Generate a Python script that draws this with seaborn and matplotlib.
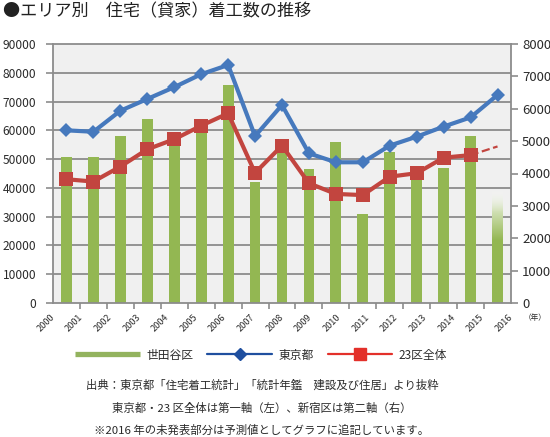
import numpy as np
import seaborn as sns
import matplotlib.pyplot as plt
from matplotlib.lines import Line2D
from matplotlib.colors import to_rgb

# data
years = [str(y) for y in range(2000, 2017)]
setagaya = [4500, 4500, 5150, 5670, 4850, 5450, 6730, 3740, 4650,
            4130, 4960, 2740, 4670, 4150, 4160, 5150, 3500]
tokyo = [60000, 59500, 66800, 70900, 75000, 79500, 82700, 58000, 68800,
         52000, 48900, 48900, 54700, 57800, 61300, 64500, 72300]
ku23 = [43000, 42200, 47400, 53400, 56900, 61600, 65900, 45200, 54700,
        41600, 37900, 37500, 43900, 45100, 50500, 51400]
ku23_forecast_years = ['2015', '2016']
ku23_forecast = [51400, 54400]

left_ticks = list(range(0, 90001, 10000))
right_ticks = list(range(0, 8001, 1000))

green = '#93b752'
blue = '#4679bd'
red = '#c2453f'
grid_c = '#8c8c8c'
txt = '#2b2b2b'

sns.set_theme(style='white')
plt.rcParams['font.family'] = ['Noto Sans CJK JP', 'DejaVu Sans']

fig = plt.figure(figsize=(5.5, 4.37), dpi=100)
ax_bar = fig.add_axes([53 / 550, 1 - 303 / 437, 458 / 550, 259 / 437])
ax_line = ax_bar.twinx()

# bars on the second axis (right)
sns.barplot(x=years, y=setagaya, color=green, saturation=1, width=0.4,
            ax=ax_bar, zorder=2, linewidth=0)

# forecast bar for 2016 fades out at the top
p = ax_bar.patches[-1]
x0, w, h = p.get_x(), p.get_width(), p.get_height()
p.set_visible(False)
n = 200
frac = np.linspace(0, 1, n)
mix = np.clip((frac - 0.55) / 0.45, 0, 1)
g = np.array(to_rgb(green))
grad = np.zeros((n, 1, 4))
grad[:, 0, :3] = g[None, :] * (1 - mix[:, None]) + mix[:, None]
grad[:, 0, 3] = np.clip((1 - frac) / 0.2, 0, 1)
ax_bar.imshow(grad, extent=[x0, x0 + w, 0, h], origin='lower',
              aspect='auto', zorder=2)

# lines on the first axis (left)
sns.pointplot(x=years, y=tokyo, order=years, color=blue, markers='D',
              markersize=7, markeredgewidth=0, linewidth=3, errorbar=None,
              ax=ax_line)
sns.pointplot(x=years[:len(ku23)], y=ku23, order=years, color=red, markers='s',
              markersize=9.5, markeredgewidth=0, linewidth=3, errorbar=None,
              ax=ax_line)
sns.pointplot(x=ku23_forecast_years, y=ku23_forecast, order=years, color=red,
              markers='', linestyles='--', linewidth=1.6, errorbar=None,
              ax=ax_line)

# axes layout: left = lines, right = bars
ax_line.set_ylim(0, 90000)
ax_bar.set_ylim(0, 8000)
ax_bar.set_xlim(-0.5, len(years) - 0.5)
ax_bar.set_facecolor('#f0f0f0')
ax_line.patch.set_visible(False)

ax_line.yaxis.tick_left()
ax_bar.yaxis.tick_right()
ax_line.set_yticks(left_ticks)
ax_line.set_yticklabels([str(v) for v in left_ticks])
ax_bar.set_yticks(right_ticks)
ax_bar.set_yticklabels([str(v) for v in right_ticks])
ax_line.tick_params(axis='y', length=5, width=1.2, color=grid_c,
                    labelsize=8.6, labelcolor=txt, pad=7, left=True, right=False)
ax_bar.tick_params(axis='y', length=5, width=1.2, color=grid_c,
                   labelsize=9.5, labelcolor=txt, pad=3, right=True, left=False)

# horizontal grid follows the left axis, drawn behind the bars
ax_bar.set_yticks([v * 8000 / 90000 for v in left_ticks], minor=True)
ax_bar.tick_params(axis='y', which='minor', length=0)
ax_bar.grid(False)
ax_bar.grid(True, axis='y', which='minor', color=grid_c, lw=1.3, zorder=0)
ax_bar.set_axisbelow(True)
ax_line.grid(False)

for s in ax_line.spines.values():
    s.set_visible(False)
for s in ax_bar.spines.values():
    s.set_color(grid_c)
    s.set_linewidth(1.3)

# x axis: tick marks between years, rotated labels
ax_bar.set_xticks(np.arange(-0.5, len(years)), minor=True)
ax_bar.set_xticks(np.linspace(-0.5, len(years) - 0.5, len(years)))
ax_bar.set_xticklabels(years, rotation=45, ha='right', va='center',
                       rotation_mode='anchor', fontsize=6.6, color=txt)
ax_bar.tick_params(axis='x', which='major', length=0, pad=9, bottom=True)
ax_bar.tick_params(axis='x', which='minor', length=4, width=1.2,
                   color=grid_c, bottom=True)
ax_bar.set_xlim(-0.5, len(years) - 0.5)
ax_bar.set_xlabel('')
ax_line.set_xlabel('')
ax_line.set_ylabel('')
ax_bar.set_ylabel('')

fig.text(524 / 550, 1 - 318 / 437, '（年）', fontsize=5.5, color=txt,
         ha='left', va='center')

fig.text(3 / 550, 1 - 11 / 437, '●エリア別　住宅（貸家）着工数の推移',
         fontsize=12.3, color='#222222', ha='left', va='center')

handles = [
    Line2D([], [], color='#93b35e', lw=3.8, solid_capstyle='butt'),
    Line2D([], [], color='#1f4f9f', lw=1.6, marker='D', ms=6.5),
    Line2D([], [], color='#e3302a', lw=1.6, marker='s', ms=8.6),
]
fig.legend(handles, ['世田谷区', '東京都', '23区全体'], ncol=3, loc='center',
           bbox_to_anchor=(261 / 550, 1 - 355 / 437), frameon=False,
           fontsize=8.5, handlelength=5.5, handletextpad=0.5,
           columnspacing=1.2, labelcolor=txt)

notes = [
    '出典：東京都「住宅着工統計」「統計年鑑　建設及び住居」より抜粋',
    '東京都・23 区全体は第一軸（左）、新宿区は第二軸（右）',
    '※2016 年の未発表部分は予測値としてグラフに追記しています。',
]
for note, yy in zip(notes, [385, 408, 430]):
    fig.text(262 / 550, 1 - yy / 437, note, fontsize=8.2, color=txt,
             ha='center', va='center')

fig.savefig('out.png', dpi=100, facecolor='white')
